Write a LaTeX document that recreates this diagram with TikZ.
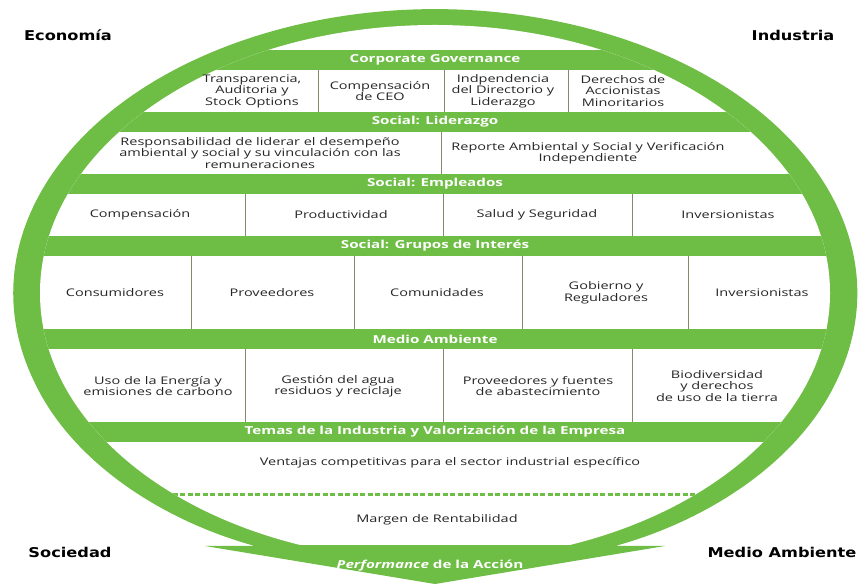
\documentclass[tikz,border=0pt]{standalone}
\usepackage{fontspec}
\setmainfont[FakeStretch=1.38]{Open Sans}
\newfontfamily\cornerfont[FakeStretch=1.2]{DejaVu Sans}
\definecolor{esggreen}{RGB}{110,189,69}
\definecolor{sepgray}{RGB}{130,140,105}

\begin{document}
\begin{tikzpicture}[x=1pt, y=1pt,
    band/.style={fill=esggreen, text=white, inner sep=0pt,
      minimum width=900pt, minimum height=20pt,
      font=\fontsize{11}{13}\selectfont\bfseries},
    cell/.style={align=center, text=black!85, inner sep=0pt,
      font=\fontsize{10.5}{11.5}\selectfont},
    sep/.style={draw=sepgray, line width=0.8pt},
    corner/.style={text=black, font=\cornerfont\fontsize{13.5}{15}\selectfont\bfseries},
  ]
  \useasboundingbox (0,0) rectangle (861,585);

  % Ring that turns into the arrow at the bottom
  \fill[esggreen] (255,39) -- (205,39) -- (435,1) -- (665,39) -- (615,39)
    .. controls (710,65) and (800,125) .. (837,205)
    arc[start angle=-17.8, end angle=197.8, x radius=422pt, y radius=284pt]
    .. controls (70,125) and (160,65) .. (255,39) -- cycle;

  % Inside of the ring: bands and cells
  \begin{scope}
    \clip (435,292) ellipse [x radius=395pt, y radius=268pt];
    \fill[white] (0,40) rectangle (861,585);

    \node[band] (cg)    at (435,525) {Corporate Governance};
    \node[band] (lid)   at (435,463) {Social: Liderazgo};
    \node[band] (emp)   at (435,401) {Social: Empleados};
    \node[band] (grp)   at (435,339) {Social: Grupos de Interés};
    \node[band] (amb)   at (435,246) {Medio Ambiente};
    \node[band] (temas) at (435,153) {Temas de la Industria y Valorización de la Empresa};

    % Cell separators
    \foreach \x in {318,444,568} \draw[sep] (\x,473) -- (\x,515);
    \draw[sep] (441,411) -- (441,453);
    \foreach \x in {245,443,632} \draw[sep] (\x,349) -- (\x,391);
    \foreach \x in {191,354,522,688} \draw[sep] (\x,256) -- (\x,329);
    \foreach \x in {245,443,632} \draw[sep] (\x,163) -- (\x,236);

    % Dotted divider
    \draw[esggreen, line width=3pt, dash pattern=on 5pt off 2.5pt] (150,90) -- (720,90);
  \end{scope}

  % Corporate Governance
  \node[cell] (cg1) at (252,494) {Transparencia,\\Auditoria y\\Stock Options};
  \node[cell] (cg2) at (380,494) {Compensación\\de CEO};
  \node[cell] (cg3) at (503,494) {Indpendencia\\del Directorio y\\Liderazgo};
  \node[cell] (cg4) at (623,494) {Derechos de\\Accionistas\\Minoritarios};

  % Social: Liderazgo
  \node[cell] (lid1) at (260,432)
    {Responsabilidad de liderar el desempeño\\ambiental y social y su vinculación con las\\remuneraciones};
  \node[cell] (lid2) at (588,432)
    {Reporte Ambiental y Social y Verificación\\Independiente};

  % Social: Empleados
  \node[cell] (emp1) at (140,370) {Compensación};
  \node[cell] (emp2) at (341,370) {Productividad};
  \node[cell] (emp3) at (537,370) {Salud y Seguridad};
  \node[cell] (emp4) at (728,370) {Inversionistas};

  % Social: Grupos de Interés
  \node[cell] (grp1) at (115,292) {Consumidores};
  \node[cell] (grp2) at (272,292) {Proveedores};
  \node[cell] (grp3) at (437,292) {Comunidades};
  \node[cell] (grp4) at (606,292) {Gobierno y\\Reguladores};
  \node[cell] (grp5) at (762,292) {Inversionistas};

  % Medio Ambiente
  \node[cell] (amb1) at (158,199) {Uso de la Energía y\\emisiones de carbono};
  \node[cell] (amb2) at (338,199) {Gestión del agua\\residuos y reciclaje};
  \node[cell] (amb3) at (538,199) {Proveedores y fuentes\\de abastecimiento};
  \node[cell] (amb4) at (717,199) {Biodiversidad\\y derechos\\de uso de la tierra};

  % Industria y valor
  \node[cell] (vent)   at (450,122) {Ventajas competitivas para el sector industrial específico};
  \node[cell] (margen) at (437,65)  {Margen de Rentabilidad};
  \node[text=white, font=\fontsize{11}{13}\selectfont\bfseries] (perf) at (430,19)
    {\textit{Performance} de la Acción};

  % Corners
  \node[corner] (eco) at (68,550)  {Economía};
  \node[corner] (ind) at (793,550) {Industria};
  \node[corner] (soc) at (70,33)   {Sociedad};
  \node[corner] (mam) at (782,33)  {Medio Ambiente};
\end{tikzpicture}
\end{document}
